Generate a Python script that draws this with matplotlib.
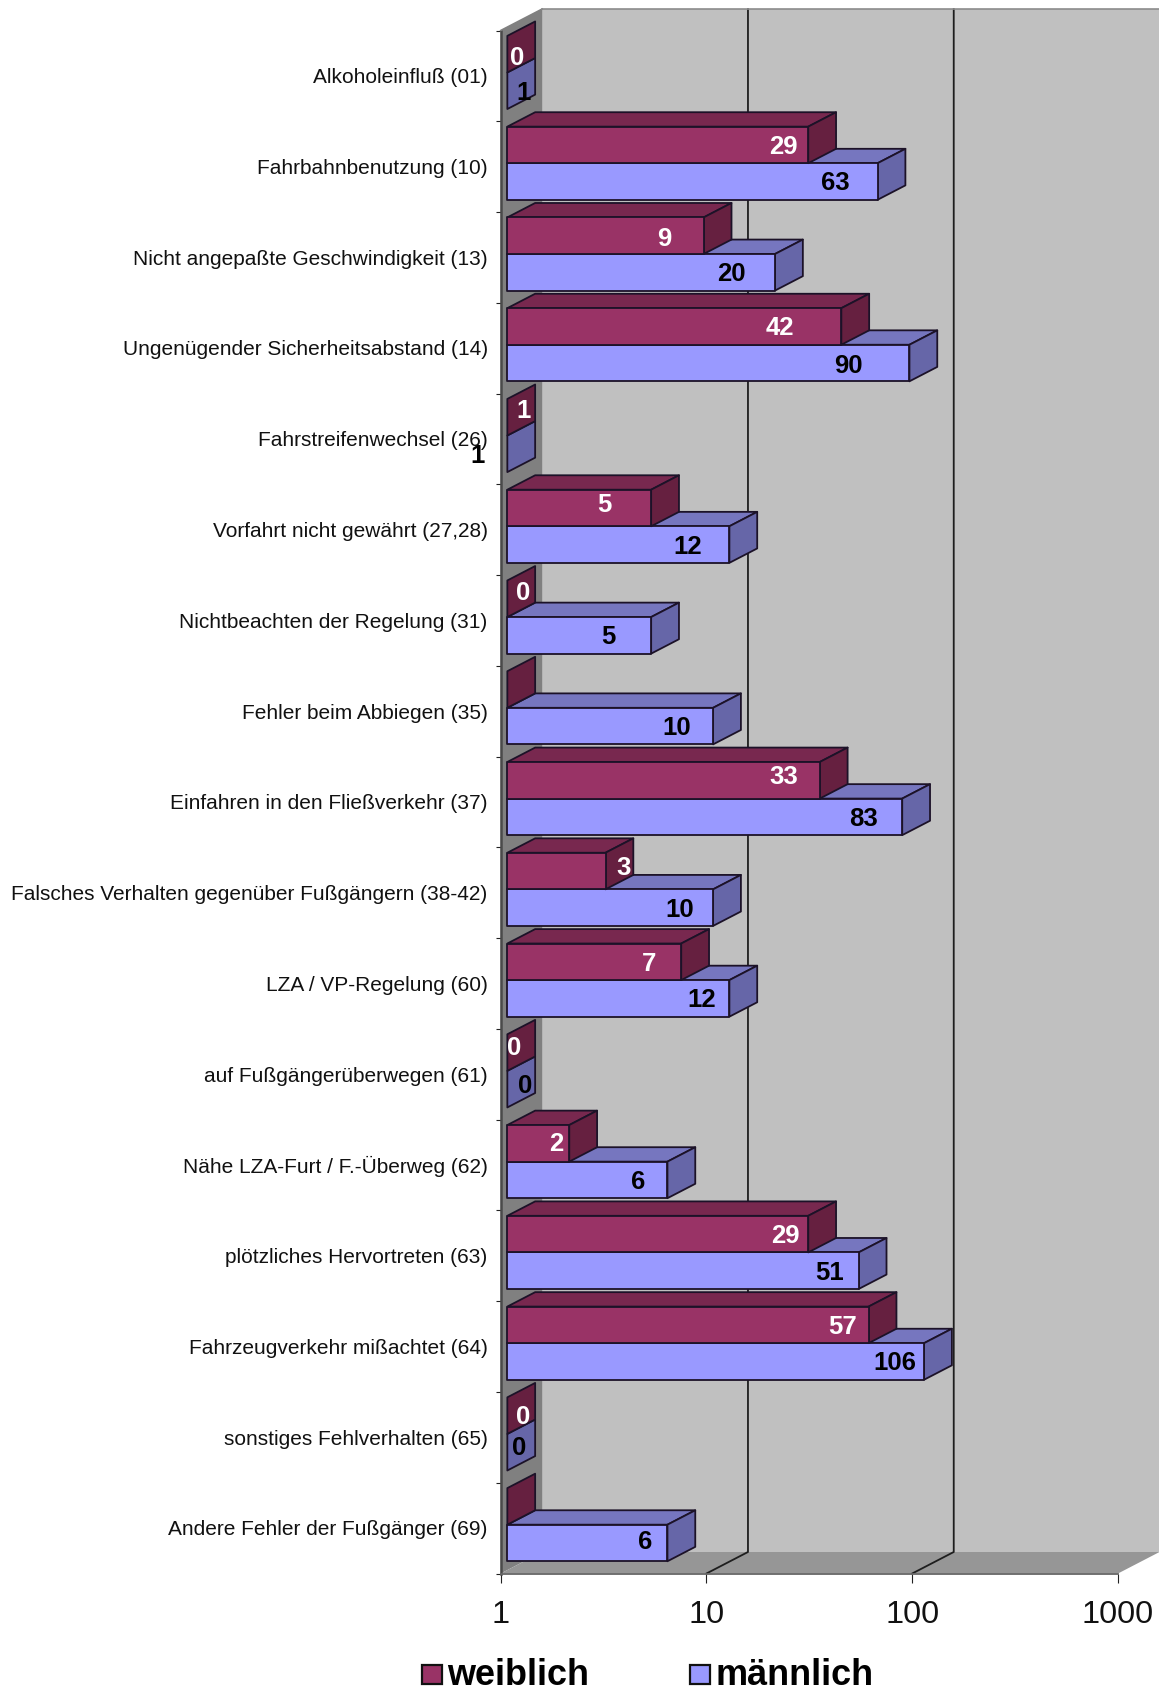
import numpy as np
import matplotlib
matplotlib.use("Agg")
import matplotlib.pyplot as plt
from matplotlib.patches import Rectangle
from matplotlib.transforms import ScaledTranslation

categories = ["Alkoholeinfluß (01)", "Fahrbahnbenutzung (10)", "Nicht angepaßte Geschwindigkeit (13)",
              "Ungenügender Sicherheitsabstand (14)", "Fahrstreifenwechsel (26)", "Vorfahrt nicht gewährt (27,28)",
              "Nichtbeachten der Regelung (31)", "Fehler beim Abbiegen (35)", "Einfahren in den Fließverkehr (37)",
              "Falsches Verhalten gegenüber Fußgängern (38-42)", "LZA / VP-Regelung (60)", "auf Fußgängerüberwegen (61)",
              "Nähe LZA-Furt / F.-Überweg (62)", "plötzliches Hervortreten (63)", "Fahrzeugverkehr mißachtet (64)",
              "sonstiges Fehlverhalten (65)", "Andere Fehler der Fußgänger (69)"]
weiblich = [0, 29, 9, 42, 1, 5, 0, None, 33, 3, 7, 0, 2, 29, 57, 0, None]
maennlich = [1, 63, 20, 90, 1, 12, 5, 10, 83, 10, 12, 0, 6, 51, 106, 0, 6]
x_ticks = [1, 10, 100, 1000]

# hand-placed data label offsets (pixels from the bar end), as in the reference
w_dx = [10, -25, -39, -61, 16, -46.5, 16, 0, -36, 18, -32, 7, -13, -23, -26, 16, 0]
w_dy = [2.5, 1, 2, 0.5, -7, -4, -7, 0, -4, -4, 1, -6, 0, 1, 1, 0, 0]
m_dx = [16, -42, -44, -61, -30, -42, -43, -36, -39, -33, -28, 18, -29, -29, -29, 12, -22]
m_dy = [1, 1, 1, 2, 1, 1, 1, 1, 1.5, 1, 1, -4, 1.5, 1, 1, -5, -2]

W, H = 1159, 1690
PT = 72 / 100
plt.rcParams["font.family"] = ["Liberation Sans", "DejaVu Sans"]
fig = plt.figure(figsize=(W / 100, H / 100), dpi=100, facecolor="white")
X0, X1, Y0, Y1 = 500.7, 1118, 31.5, 1574.5
ax = fig.add_axes([X0 / W, 1 - Y1 / H, (X1 - X0) / W, (Y1 - Y0) / H])
ax.set_xscale("log")
ax.set_xlim(1, 1000)
ax.set_ylim(17, 0)
ax.patch.set_visible(False)
for s in ax.spines.values():
    s.set_visible(False)

DEC = (X1 - X0) / 3
CAT = (Y1 - Y0) / 17
DX = 41.5 / DEC
DY = 21.5 / CAT


def pt(v, y, d):
    return v * 10 ** (d * DX), y - d * DY


def poly(points, fc, ec="none", lw=0, z=1):
    xs, ys = zip(*points)
    ax.fill(xs, ys, facecolor=fc, edgecolor=ec, linewidth=lw, clip_on=False, zorder=z, joinstyle="round")


N = len(categories)
XR = 1000
# walls and floor
poly([pt(1, 0, 1), pt(XR, 0, 1), pt(XR, N, 1), pt(1, N, 1)], "#C0C0C0", z=1)
poly([pt(1, 0, 0), pt(1, 0, 1), pt(1, N, 1), pt(1, N, 0)], "#808080", z=1.5)
poly([pt(1, N, 0), pt(XR, N, 0), pt(XR, N, 1), pt(1, N, 1)], "#969696", z=1.5)
GRID = "#1e1e1e"
for g in x_ticks[1:3]:
    xs, ys = zip(pt(g, N, 0), pt(g, N, 1), pt(g, 0, 1))
    ax.plot(xs, ys, color=GRID, lw=1.3, clip_on=False, zorder=2)
xs, ys = zip(pt(1, N, 0), pt(1, 0, 0), pt(1, 0, 1), pt(XR, 0, 1))
ax.plot(xs[:2], ys[:2], color="#4a4a4a", lw=1.8, clip_on=False, zorder=2)
ax.plot(xs[1:3], ys[1:3], color="#808080", lw=1.2, clip_on=False, zorder=2)
ax.plot(xs[2:], ys[2:], color="#8c8c8c", lw=1.2, clip_on=False, zorder=2)
xs, ys = zip(pt(1, N, 0), pt(XR, N, 0))
ax.plot(xs, ys, color="#666666", lw=1.3, clip_on=False, zorder=2)

BAR = 0.403
MARGIN = (1 - 2 * BAR) / 2
D0, D1 = 0.16, 0.83
EDGE = "#1c1228"
EW = 1.3


def bar3d(v, top, colors, z):
    front, tp, side = colors
    v = max(v or 1, 1)
    bot = top + BAR
    if v > 1:
        poly([pt(1, top, D0), pt(1, top, D1), pt(v, top, D1), pt(v, top, D0)], tp, EDGE, EW, z)
        poly([pt(1, top, D0), pt(v, top, D0), pt(v, bot, D0), pt(1, bot, D0)], front, EDGE, EW, z + 0.02)
    poly([pt(v, top, D0), pt(v, top, D1), pt(v, bot, D1), pt(v, bot, D0)], side, EDGE, EW, z + 0.01)


C_W = ("#993366", "#78284F", "#662040")
C_M = ("#9999FF", "#7676BF", "#6666A8")
for i in range(N):
    top_w = i + MARGIN
    top_m = top_w + BAR
    bar3d(maennlich[i], top_m, C_M, 3 + i * 0.2)
    bar3d(weiblich[i], top_w, C_W, 3.1 + i * 0.2)
    for val, top, dx, dy, col in ((weiblich[i], top_w, w_dx[i], w_dy[i], "white"),
                                  (maennlich[i], top_m, m_dx[i], m_dy[i], "black")):
        if val is None:
            continue
        ax.annotate(str(val), xy=pt(max(val, 1), top + BAR / 2, D0), xytext=(dx * PT, -dy * PT),
                    textcoords="offset points", ha="center", va="center", color=col,
                    fontsize=18.5, fontweight="bold", zorder=20, annotation_clip=False)

ax.set_yticks(np.arange(N + 1))
ax.set_yticklabels([])
ax.set_yticks(np.arange(N) + 0.5, labels=categories, minor=True)
ax.tick_params(axis="y", which="major", length=5 * PT, width=0.8, color="#222222", direction="out")
ax.tick_params(axis="y", which="minor", length=0, pad=13 * PT, labelsize=15.05, labelcolor="#111111")
up = ScaledTranslation(0, 1.2 / 100, fig.dpi_scale_trans)
for lab in ax.get_yticklabels(minor=True):
    lab.set_transform(lab.get_transform() + up)
ax.set_xticks(x_ticks)
ax.set_xticklabels([str(t) for t in x_ticks])
ax.xaxis.set_minor_locator(matplotlib.ticker.NullLocator())
ax.tick_params(axis="x", which="major", length=9 * PT, width=0.8, color="#222222", direction="out",
               pad=17 * PT, labelsize=23.3, labelcolor="#111111")


def fx(x):
    return x / W


def fy(y):
    return 1 - y / H


for x0, col, x_text, name in ((422, C_W[0], 447, "weiblich"), (690, C_M[0], 716, "männlich")):
    fig.add_artist(Rectangle((fx(x0), fy(1685)), 20 / W, 19 / H, transform=fig.transFigure,
                             facecolor=col, edgecolor="#111111", linewidth=1.6))
    fig.text(fx(x_text), fy(1685), name, fontsize=25.9, fontweight="bold", ha="left", va="baseline", color="#000000")

fig.savefig("out.png", dpi=100)
